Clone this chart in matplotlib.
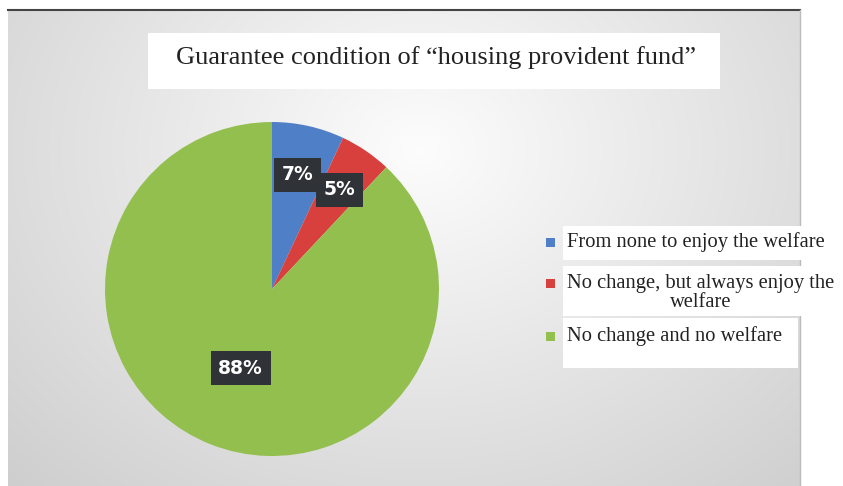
import numpy as np
import matplotlib
matplotlib.use("Agg")
import matplotlib.pyplot as plt
from matplotlib.patches import Rectangle

title = "Guarantee condition of \u201chousing provident fund\u201d"
categories = ["From none to enjoy the welfare",
              "No change, but always enjoy the\nwelfare",
              "No change and no welfare"]
values = [7, 5, 88]
colors = ["#4f7fc6", "#d8403e", "#93bf4f"]

W, H = 843, 486
fig = plt.figure(figsize=(W / 100, H / 100), dpi=100)
fig.patch.set_facecolor("white")

# background layer in pixel coordinates
bg = fig.add_axes([0, 0, 1, 1])
bg.set_xlim(0, W)
bg.set_ylim(H, 0)
bg.axis("off")
x0, x1, y0, y1 = 8, 800, 10, 486
yy, xx = np.mgrid[0:200, 0:300]
gx = xx / 299 * (x1 - x0) + x0
gy = yy / 199 * (y1 - y0) + y0
d = np.sqrt(((gx - 420) / 520) ** 2 + ((gy - 150) / 420) ** 2)
shade = 0.99 - 0.21 * np.clip(d, 0, 1.3) / 1.3
img = np.dstack([shade, shade, shade])
bg.imshow(img, extent=[x0, x1, y1, y0], aspect="auto", interpolation="bicubic", zorder=0)
bg.plot([x0, x1], [y0, y0], color="#444444", lw=1.5, zorder=1)
bg.plot([x1, x1], [y0, y1], color="#bbbbbb", lw=1.0, zorder=1)

# title box
bg.add_patch(Rectangle((148, 33), 572, 56, facecolor="white", edgecolor="none", zorder=2))
bg.text(436, 58, title, fontsize=19, family="Liberation Serif", color="#222222",
        ha="center", va="center", zorder=3)

# legend
leg_y = [242, 293, 336]
bg.add_patch(Rectangle((563, 226), 273, 34, facecolor="white", edgecolor="none", zorder=2))
bg.add_patch(Rectangle((563, 266), 276, 50, facecolor="white", edgecolor="none", zorder=2))
bg.add_patch(Rectangle((563, 318), 235, 50, facecolor="white", edgecolor="none", zorder=2))
for c, lab, y in zip(colors, categories, leg_y):
    my = y if "\n" not in lab else 283
    bg.add_patch(Rectangle((546, my - 4), 9, 9, facecolor=c, edgecolor="none", zorder=3))
    bg.text(567, y, lab, fontsize=14.8, family="Liberation Serif", color="#222222",
            ha="left", va="center", multialignment="center", linespacing=0.95, zorder=3)

# pie
cx, cy, r = 272, 289, 167
ax = fig.add_axes([(cx - r) / W, 1 - (cy + r) / H, 2 * r / W, 2 * r / H])
ax.set_aspect("equal")
wedges, _ = ax.pie(values, colors=colors, startangle=90, counterclock=False,
                   wedgeprops=dict(linewidth=0))
ax.set_xlim(-1, 1)
ax.set_ylim(-1, 1)

dists = [0.70, 0.72, 0.51]
for w, v, dd in zip(wedges, values, dists):
    ang = np.deg2rad((w.theta1 + w.theta2) / 2)
    ax.text(dd * np.cos(ang), dd * np.sin(ang), f"{v}%", color="white",
            fontsize=13.5, fontweight="bold", ha="center", va="center",
            bbox=dict(boxstyle="square,pad=0.4", facecolor="#2f3236", edgecolor="none"))

fig.savefig("out.png", dpi=100)
